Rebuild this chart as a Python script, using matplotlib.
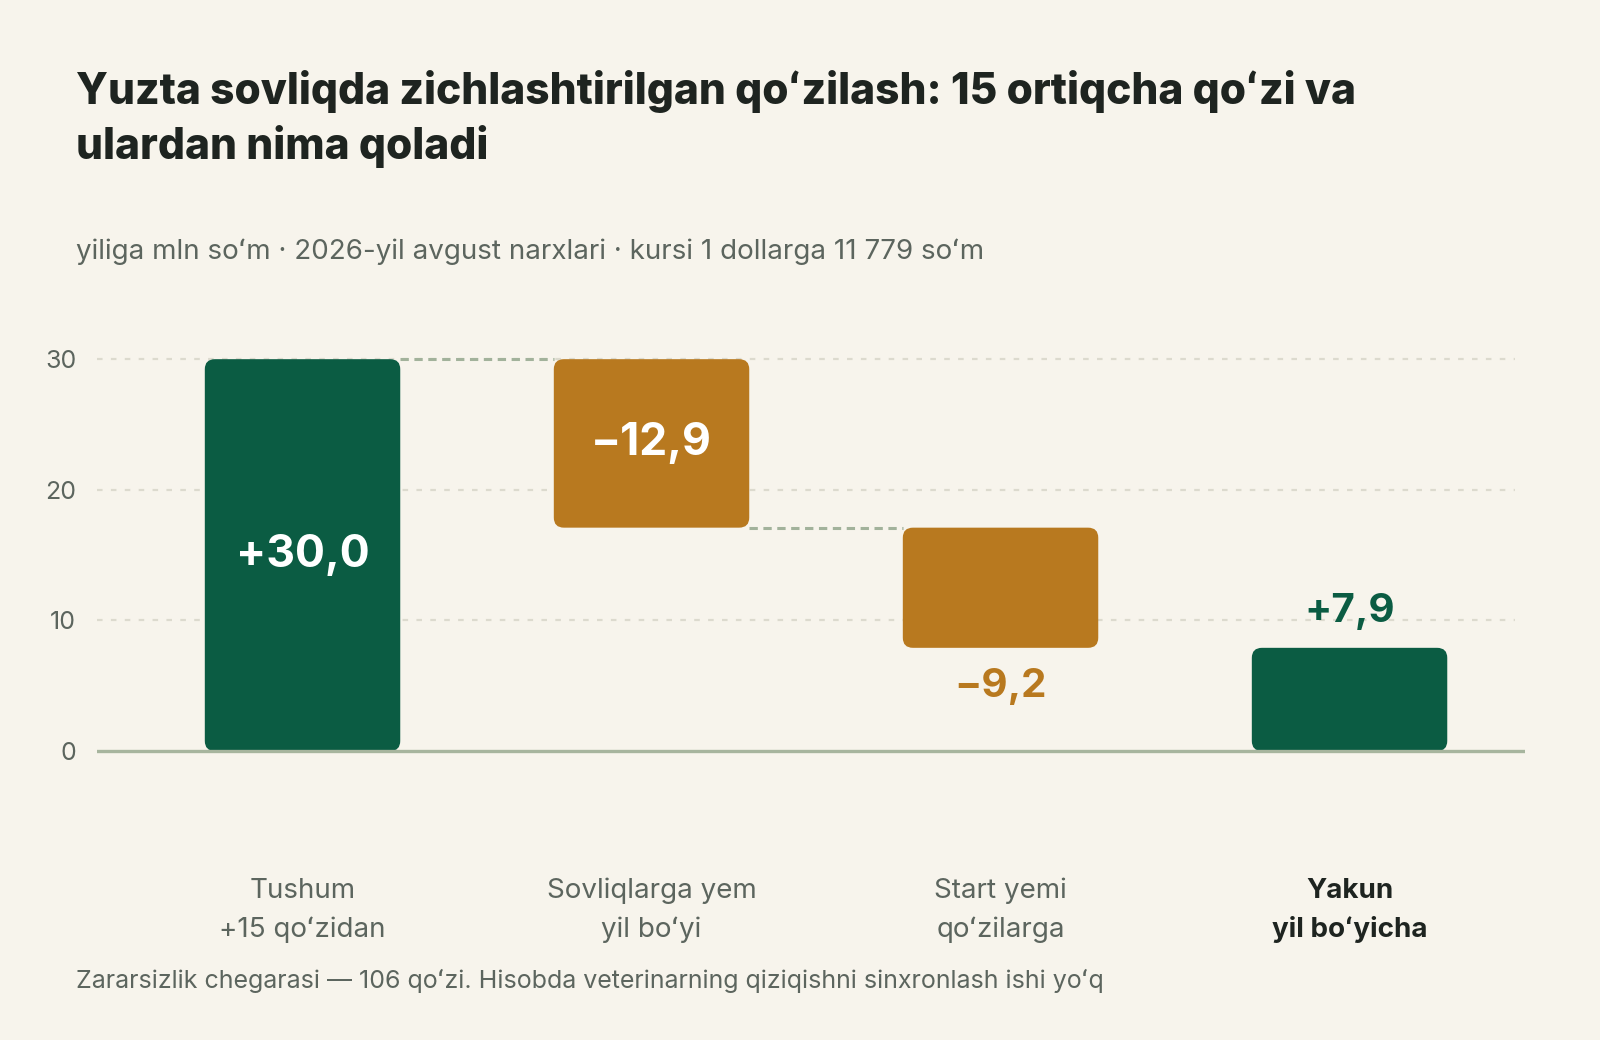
import numpy as np
import matplotlib
matplotlib.use("Agg")
import matplotlib.pyplot as plt
from matplotlib.patches import FancyBboxPatch

plt.rcParams['font.family'] = ['Inter', 'DejaVu Sans']
plt.rcParams['lines.scale_dashes'] = False

# ============================================================
# DATA
# ============================================================
categories = ["Tushum\n+15 qoʻzidan", "Sovliqlarga yem\nyil boʻyi",
              "Start yemi\nqoʻzilarga", "Yakun\nyil boʻyicha"]
changes = [30.0, -12.9, -9.2]
total = 7.9
value_labels = ["+30,0", "−12,9", "−9,2", "+7,9"]
y_ticks = [0, 10, 20, 30]

title = "Yuzta sovliqda zichlashtirilgan qoʻzilash: 15 ortiqcha qoʻzi va\nulardan nima qoladi"
subtitle = "yiliga mln soʻm · 2026-yil avgust narxlari · kursi 1 dollarga 11 779 soʻm"
footnote = "Zararsizlik chegarasi — 106 qoʻzi. Hisobda veterinarning qiziqishni sinxronlash ishi yoʻq"

# Colours
BG = "#f7f4ec"
GREEN = "#0b5c43"
ORANGE = "#b8791f"
DARK = "#1e2420"
GREY = "#5c655e"
GRID = "#dcdace"
CONNECT = "#a2b29b"
ZERO = "#a7b59e"

# Waterfall geometry from data
ends = np.cumsum(changes)
starts = ends - np.array(changes)
bottoms = list(np.minimum(starts, ends)) + [0]
heights = list(np.abs(changes)) + [total]
colors = [GREEN, ORANGE, ORANGE, GREEN]
x = np.arange(len(categories))
bar_w = 0.56

fig = plt.figure(figsize=(16, 10.4), dpi=100, facecolor=BG)
ax = fig.add_axes([0.0606, 0.2716, 0.8928, 0.3956])
ax.set_facecolor(BG)
ax.set_xlim(-0.589, 3.504)
ax.set_ylim(-0.5, 31)

# Grid lines
for t in y_ticks[1:]:
    ax.hlines(t, -0.589, 3.475, color=GRID, lw=1.6, linestyles=(0, (4, 6)), zorder=1)
ax.axhline(0, color=ZERO, lw=2.4, zorder=3)

# Bars with rounded corners
r = 0.029
for xi, b, h, c in zip(x, bottoms, heights, colors):
    p = FancyBboxPatch((xi - bar_w / 2, b), bar_w, h,
                       boxstyle=f"round,pad=0,rounding_size={r}",
                       mutation_aspect=26.5, fc=c, ec="none", zorder=2)
    ax.add_patch(p)

# Connectors
for i in range(len(changes) - 1):
    ax.hlines(ends[i], x[i] + bar_w / 2, x[i + 1] - bar_w / 2,
              color=CONNECT, lw=2.2, linestyles=(0, (6, 4)), zorder=1)

# Value labels
ax.text(x[0], bottoms[0] + heights[0] / 2, value_labels[0], ha="center", va="center",
        color="white", fontsize=32, fontweight="bold", zorder=4)
ax.text(x[1], bottoms[1] + heights[1] / 2, value_labels[1], ha="center", va="center",
        color="white", fontsize=32, fontweight="bold", zorder=4)
ax.text(x[2], bottoms[2] - 2.95, value_labels[2], ha="center", va="center",
        color=ORANGE, fontsize=29, fontweight="bold", zorder=4)
ax.text(x[3], total + 2.75, value_labels[3], ha="center", va="center",
        color=GREEN, fontsize=29, fontweight="bold", zorder=4)

# Axes styling
ax.set_yticks(y_ticks)
ax.set_yticklabels([str(t) for t in y_ticks], fontsize=18, color=GREY)
ax.tick_params(axis="y", length=0, pad=15)
ax.set_xticks([])
for s in ax.spines.values():
    s.set_visible(False)

# Category labels
for i, lab in enumerate(categories):
    last = i == len(categories) - 1
    ax.text(x[i], -12.2, lab, ha="center", va="center", fontsize=20,
            color=DARK if last else GREY, fontweight="bold" if last else "normal",
            linespacing=1.57)

# Titles and footnote
fig.text(0.0478, 0.933, title, ha="left", va="top", fontsize=30.6, fontweight=800,
         color=DARK, linespacing=1.35)
fig.text(0.0478, 0.751, subtitle, ha="left", va="baseline", fontsize=20, color=GREY)
fig.text(0.0478, 0.050, footnote, ha="left", va="baseline", fontsize=18, color=GREY)

fig.savefig("out.png", dpi=100, facecolor=BG)
